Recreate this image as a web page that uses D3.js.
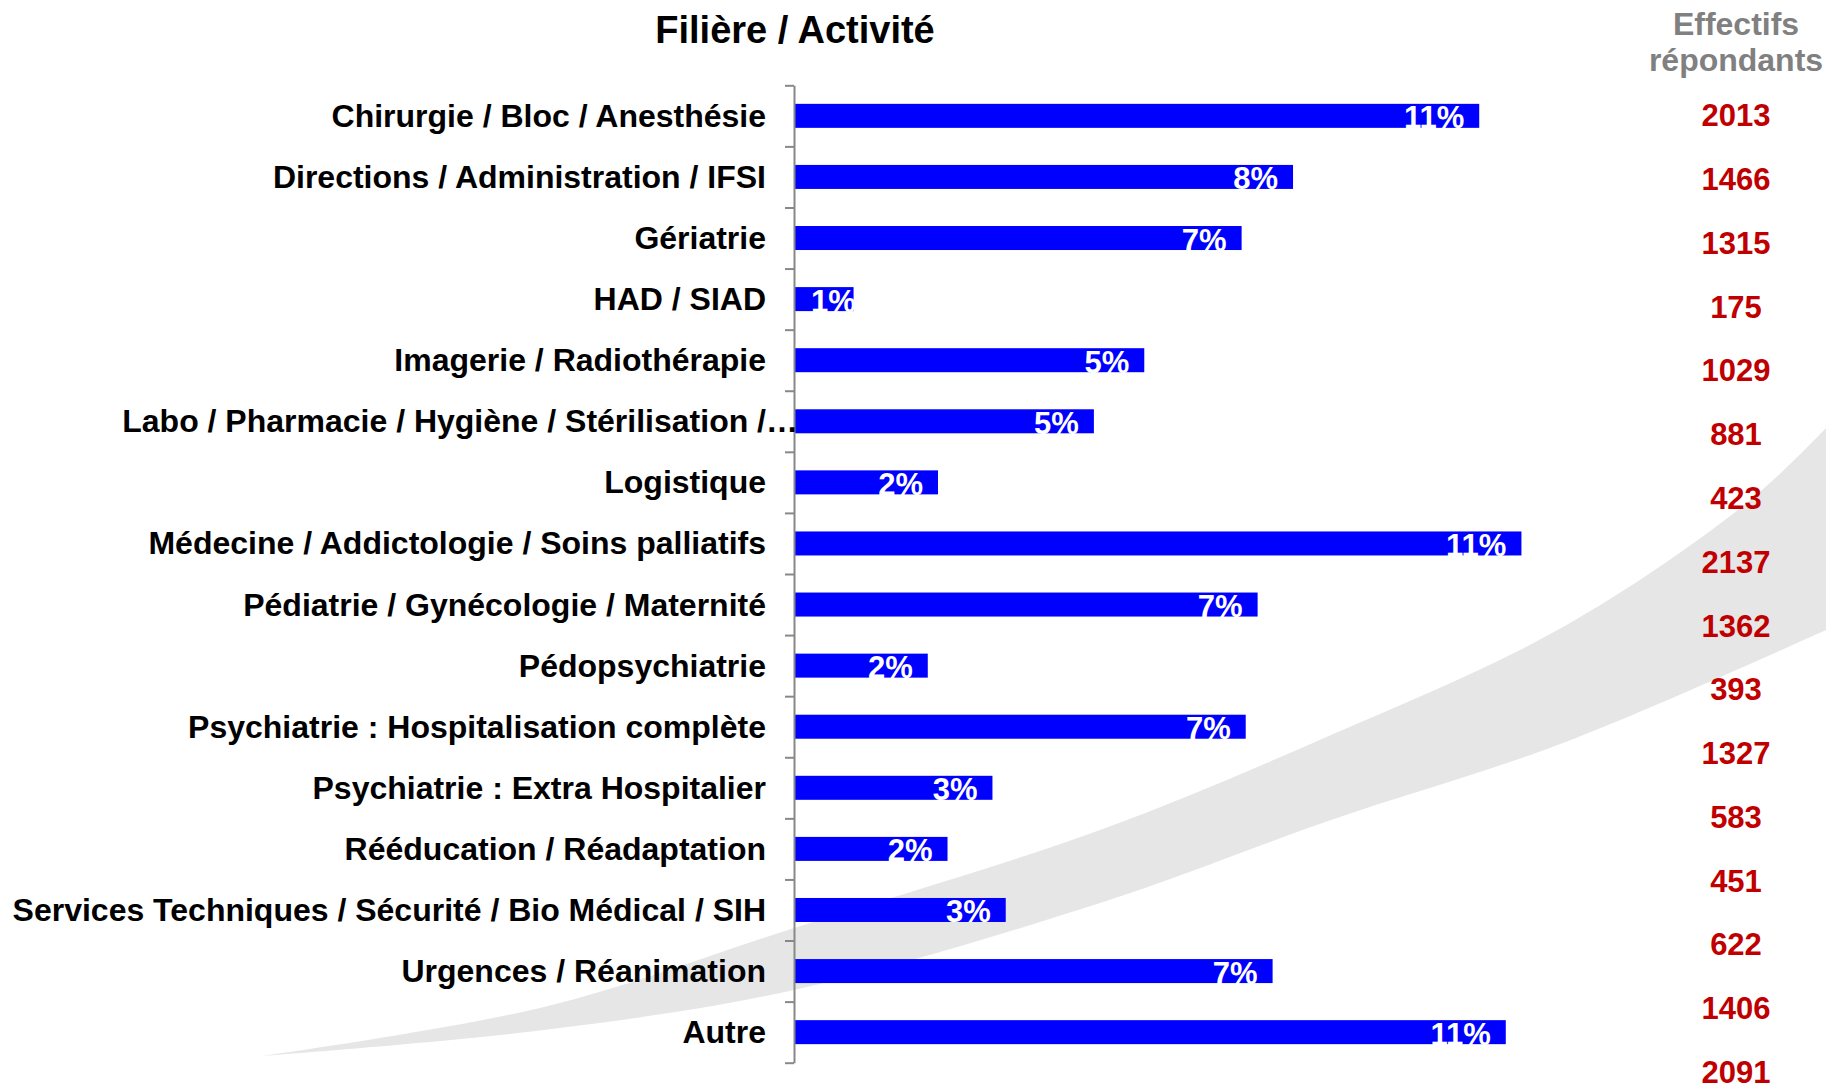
<!DOCTYPE html>
<html>
<head>
<meta charset="utf-8">
<script src="https://cdn.jsdelivr.net/npm/d3@7"></script>
<style>
  html, body { margin: 0; padding: 0; background: #fff; }
  svg text { font-family: "Liberation Sans", Arial, sans-serif; font-weight: bold; }
</style>
</head>
<body>
<svg id="drawing_region"></svg>
<script>
const categories = [
    "Chirurgie / Bloc / Anesthésie",
    "Directions / Administration / IFSI",
    "Gériatrie",
    "HAD / SIAD",
    "Imagerie / Radiothérapie",
    "Labo / Pharmacie / Hygiène / Stérilisation /…",
    "Logistique",
    "Médecine / Addictologie / Soins palliatifs",
    "Pédiatrie / Gynécologie / Maternité",
    "Pédopsychiatrie",
    "Psychiatrie : Hospitalisation complète",
    "Psychiatrie : Extra Hospitalier",
    "Rééducation / Réadaptation",
    "Services Techniques / Sécurité / Bio Médical / SIH",
    "Urgences / Réanimation",
    "Autre"
];
const counts = [2013, 1466, 1315, 175, 1029, 881, 423, 2137, 1362, 393, 1327, 583, 451, 622, 1406, 2091];
const percentLabels = ["11%", "8%", "7%", "1%", "5%", "5%", "2%", "11%", "7%", "2%", "7%", "3%", "2%", "3%", "7%", "11%"];

const titleText = "Filière / Activité";
const columnHeader = ["Effectifs", "répondants"];

const config = {
    width: 1826,
    height: 1091,
    axisX: 794,
    top: 85.3,
    bottom: 1062.7,
    countTop: 115.3,
    countBottom: 1072,
    countX: 1736
};

const svg = d3.select('#drawing_region')
    .attr('width', config.width)
    .attr('height', config.height);

// grey swoosh in the background
const upper = [[262,1056],[544,1007],[794,928],[1100,830],[1331,735],[1563,627],[1748,502],[1826,428]];
const lower = [[1826,630],[1563,743],[1331,820],[1100,903],[794,990],[544,1030],[262,1056]];
const curve = d3.line().curve(d3.curveCatmullRom.alpha(0.5));
svg.append('path')
    .attr('d', curve(upper) + curve(lower).replace('M', 'L'))
    .attr('fill', '#e6e6e6');

const xscale = d3.scaleLinear()
    .domain([0, 2500])
    .range([config.axisX, config.axisX + 2500 * 0.3404]);

const yscale = d3.scaleBand()
    .domain(categories)
    .range([config.top, config.bottom])
    .paddingInner(0.607)
    .paddingOuter(0.3035);

const edges = d3.scaleLinear()
    .domain([0, categories.length])
    .range([config.top, config.bottom]);

const ycount = d3.scalePoint()
    .domain(categories)
    .range([config.countTop, config.countBottom]);

// bars
svg.append('g').selectAll('rect')
    .data(categories)
    .join('rect')
    .attr('x', xscale(0))
    .attr('y', d => yscale(d))
    .attr('width', (d, i) => xscale(counts[i]) - xscale(0))
    .attr('height', yscale.bandwidth())
    .attr('fill', '#0000ff');

// percent labels inside bars
const pct = svg.append('g').selectAll('text')
    .data(categories)
    .join('text')
    .attr('y', d => yscale(d) + yscale.bandwidth() / 2 + 12.5)
    .attr('text-anchor', 'end')
    .attr('font-size', '31px')
    .attr('fill', '#fff')
    .text((d, i) => percentLabels[i]);
pct.attr('x', function(d, i) {
    const w = this.getComputedTextLength();
    return Math.max(xscale(counts[i]) - 15, xscale(0) + 17 + w);
});

// axis with ticks at band edges
const yaxis = d3.axisLeft(edges)
    .tickValues(d3.range(categories.length + 1))
    .tickFormat('')
    .tickSize(9)
    .tickSizeOuter(0);
const axisGroup = svg.append('g')
    .attr('transform', `translate(${config.axisX}, 0)`)
    .call(yaxis);
axisGroup.selectAll('path, line')
    .attr('stroke', '#888')
    .attr('stroke-width', 2);

// category labels
svg.append('g').selectAll('text')
    .data(categories)
    .join('text')
    .attr('x', 766)
    .attr('dx', d => d.endsWith('…') ? '1em' : 0)
    .attr('y', d => yscale(d) + yscale.bandwidth() / 2 + 11)
    .attr('text-anchor', 'end')
    .attr('font-size', '32px')
    .attr('fill', '#000')
    .text(d => d);

// title
svg.append('text')
    .attr('x', 795)
    .attr('y', 43)
    .attr('text-anchor', 'middle')
    .attr('font-size', '38px')
    .attr('fill', '#000')
    .text(titleText);

// right column header
svg.append('g').selectAll('text')
    .data(columnHeader)
    .join('text')
    .attr('x', config.countX)
    .attr('y', (d, i) => 35 + i * 36)
    .attr('text-anchor', 'middle')
    .attr('font-size', '32px')
    .attr('fill', '#808080')
    .text(d => d);

// respondent counts
svg.append('g').selectAll('text')
    .data(categories)
    .join('text')
    .attr('x', config.countX)
    .attr('y', d => ycount(d) + 11)
    .attr('text-anchor', 'middle')
    .attr('font-size', '31px')
    .attr('fill', '#c00000')
    .text((d, i) => counts[i]);
</script>
</body>
</html>
